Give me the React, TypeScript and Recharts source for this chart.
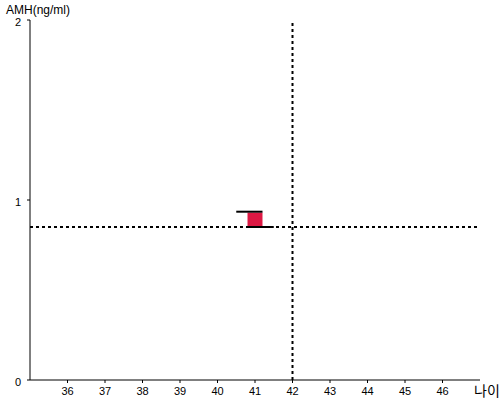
import React from "react";
import { ComposedChart, XAxis, YAxis, ReferenceLine, ReferenceArea } from "recharts";

const AGE_TICKS = [36, 37, 38, 39, 40, 41, 42, 43, 44, 45, 46];
const AMH_TICKS = [0, 1, 2];
const AGE_DOMAIN = [35, 47];
const AMH_DOMAIN = [0, 2];

// measured result box (age range x AMH range)
const BOX_AGE = [40.8, 41.2];
const BOX_AMH = [0.85, 0.93];

// black marker bars above / below the box
const UPPER_MARK = [
  { x: 40.5, y: 0.935 },
  { x: 41.2, y: 0.935 },
];
const LOWER_MARK = [
  { x: 40.8, y: 0.85 },
  { x: 41.5, y: 0.85 },
];

// dotted guide lines
const REF_AGE = 42;
const REF_AMH = 0.85;

const FONT = "'Liberation Sans', Arial, sans-serif";
const tick = { fill: "#000", fontSize: 11, fontFamily: FONT };

export default function App() {
  return (
    <div style={{ position: "absolute", left: 0, top: 0, width: 500, height: 400 }}>
      <ComposedChart width={500} height={400} margin={{ top: 20, right: 20, left: 0, bottom: 0 }}>
        <XAxis
          type="number"
          dataKey="age"
          domain={AGE_DOMAIN}
          ticks={AGE_TICKS}
          height={20}
          tick={tick}
          tickSize={3}
          tickMargin={4}
          stroke="#000"
          allowDataOverflow
        />
        <YAxis
          type="number"
          domain={AMH_DOMAIN}
          ticks={AMH_TICKS}
          width={30}
          tick={{ ...tick, dy: 2 }}
          tickSize={3}
          tickMargin={6}
          stroke="#000"
          allowDataOverflow
        />
        <ReferenceArea
          x1={BOX_AGE[0]}
          x2={BOX_AGE[1]}
          y1={BOX_AMH[0]}
          y2={BOX_AMH[1]}
          fill="#dc1843"
          fillOpacity={1}
          stroke="none"
        />
        <ReferenceLine x={REF_AGE} stroke="#000" strokeWidth={2} strokeDasharray="3 3" />
        <ReferenceLine y={REF_AMH} stroke="#000" strokeWidth={2} strokeDasharray="3 3" />
        <ReferenceLine segment={UPPER_MARK} stroke="#000" strokeWidth={2} />
        <ReferenceLine segment={LOWER_MARK} stroke="#000" strokeWidth={2} />
      </ComposedChart>
      <div style={{ position: "absolute", left: 6, top: 3, fontSize: 12, fontFamily: FONT, lineHeight: "14px" }}>
        AMH(ng/ml)
      </div>
      <div
        style={{
          position: "absolute",
          left: 474,
          top: 382,
          fontSize: 14,
          fontFamily: "'Noto Sans CJK KR', sans-serif",
          lineHeight: "16px",
        }}
      >
        나이
      </div>
    </div>
  );
}
